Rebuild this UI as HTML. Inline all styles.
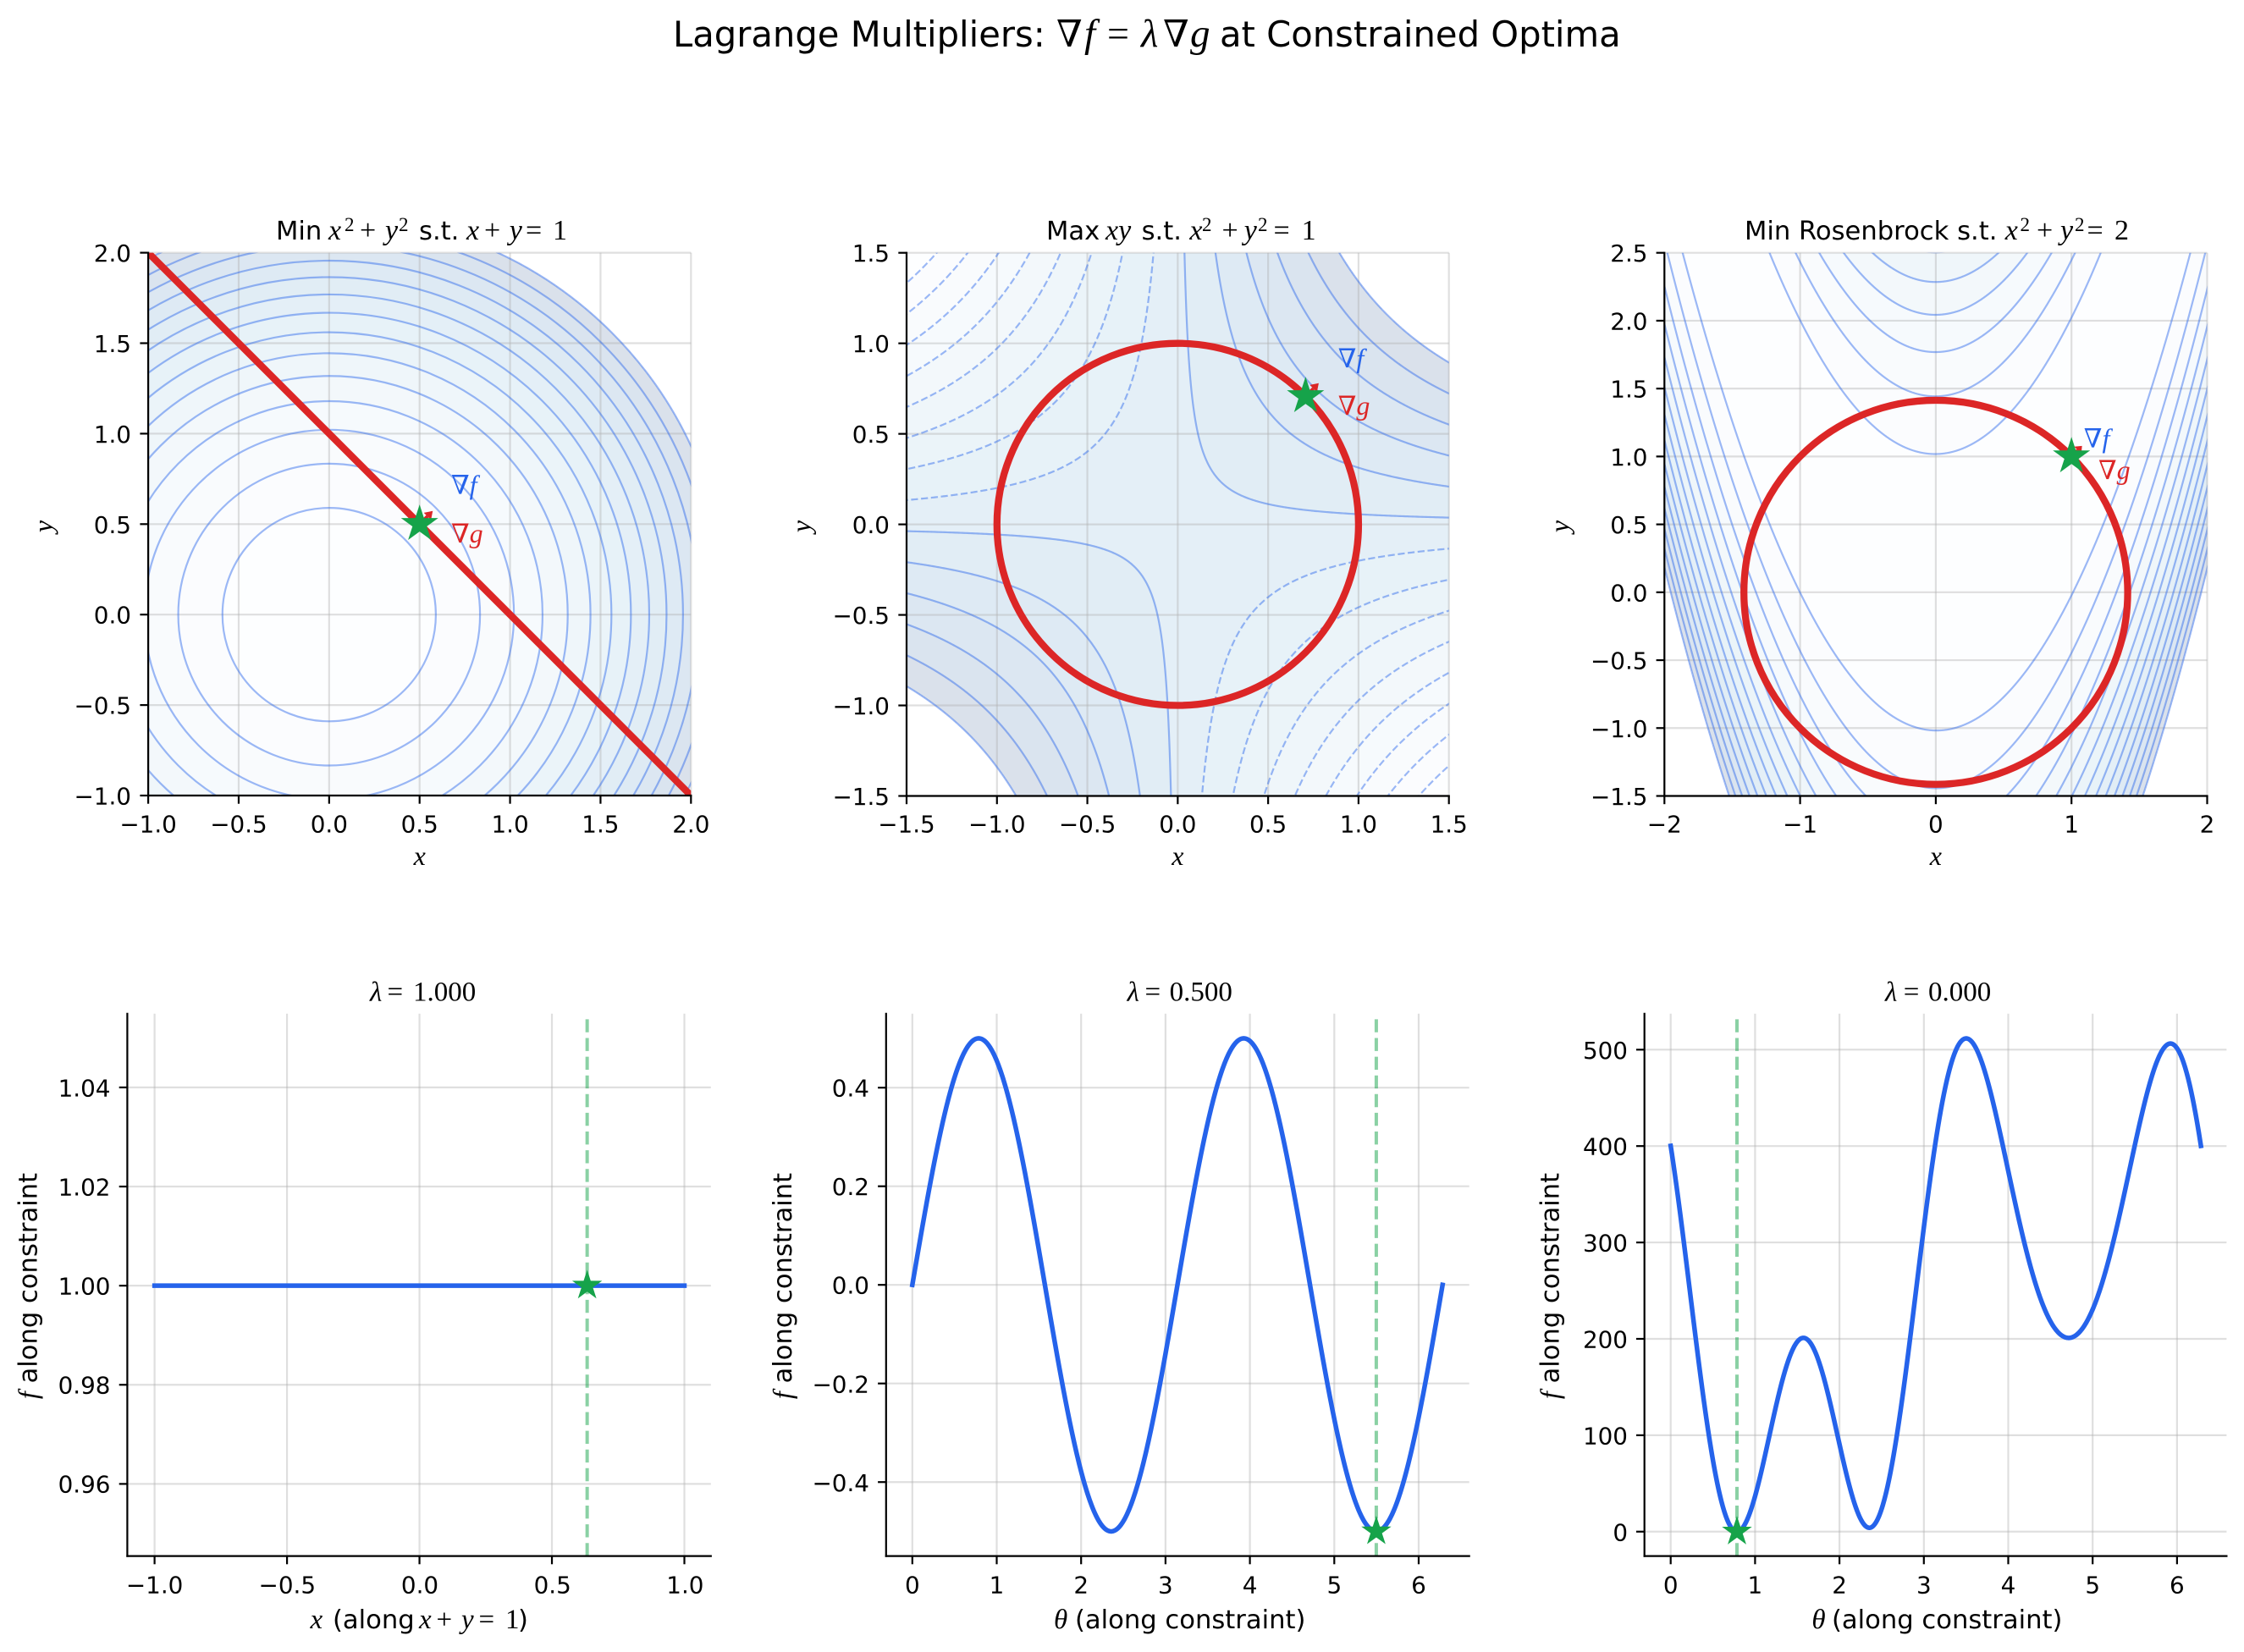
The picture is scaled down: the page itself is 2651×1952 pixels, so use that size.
<!DOCTYPE html>
<html><head><meta charset="utf-8">
<style>
html,body{margin:0;padding:0;background:#fff;}
#root{position:relative;width:2651px;height:1952px;overflow:hidden;background:#fff;}
canvas{position:absolute;}
svg{position:absolute;left:0;top:0;}
.s{font-family:"DejaVu Sans","Liberation Sans",sans-serif;}
.mi{font-family:"Liberation Serif","DejaVu Serif",serif;font-style:italic;}
.mr{font-family:"Liberation Serif","DejaVu Serif",serif;font-style:normal;}
.nb{font-family:"DejaVu Serif","Liberation Serif",serif;font-style:normal;}
</style></head><body>
<div id="root">
<canvas id="c0" width="641" height="641" style="left:175px;top:299px"></canvas>
<canvas id="c1" width="641" height="642" style="left:1071px;top:299px"></canvas>
<canvas id="c2" width="642" height="642" style="left:1966px;top:299px"></canvas>
<svg id="s" width="2651" height="1952" viewBox="0 0 2651 1952">
<defs>
 <clipPath id="k0"><rect x="175.1" y="298.6" width="641.2" height="641.4"/></clipPath>
 <clipPath id="k1"><rect x="1071" y="298.7" width="640.7" height="641.8"/></clipPath>
 <clipPath id="k2"><rect x="1966.3" y="298.7" width="641.2" height="641.8"/></clipPath>
 <clipPath id="k3"><rect x="150.4" y="1197.8" width="689.4" height="640.8"/></clipPath>
 <clipPath id="k4"><rect x="1046.8" y="1197.8" width="688.9" height="640.8"/></clipPath>
 <clipPath id="k5"><rect x="1942.7" y="1197.8" width="687.7" height="640.8"/></clipPath>
</defs>
<g id="plot"></g>

<!-- Main title -->
<text y="55" font-size="41.7" fill="#000"><tspan x="795" class="s">Lagrange Multipliers:</tspan><tspan x="1248" class="nb" font-size="44">∇</tspan><tspan x="1281" class="mi" font-size="47">f</tspan><tspan x="1308" class="mr" font-size="46">=</tspan><tspan x="1348" class="mi" font-size="47">λ</tspan><tspan x="1374" class="nb" font-size="44">∇</tspan><tspan x="1406" class="mi" font-size="47">g</tspan><tspan x="1441" class="s">at Constrained Optima</tspan></text>

<!-- Row 1 titles -->
<text y="283" font-size="30.6" fill="#000"><tspan x="326" class="s">Min</tspan><tspan x="388" class="mi" font-size="34">x</tspan><tspan x="407" dy="-10" class="mr" font-size="23">2</tspan><tspan x="425" dy="10" class="mr" font-size="34">+</tspan><tspan x="455" class="mi" font-size="34">y</tspan><tspan x="471" dy="-10" class="mr" font-size="23">2</tspan><tspan x="495" dy="10" class="s">s.t.</tspan><tspan x="551" class="mi" font-size="34">x</tspan><tspan x="572" class="mr" font-size="34">+</tspan><tspan x="601.7" class="mi" font-size="34">y</tspan><tspan x="621" class="mr" font-size="34">=</tspan><tspan x="653" class="mr" font-size="34">1</tspan></text>
<text y="283" font-size="30.6" fill="#000"><tspan x="1236" class="s">Max</tspan><tspan x="1306" class="mi" font-size="34">xy</tspan><tspan x="1348.6" class="s">s.t.</tspan><tspan x="1405.4" class="mi" font-size="34">x</tspan><tspan x="1420" dy="-10" class="mr" font-size="23">2</tspan><tspan x="1443.5" dy="10" class="mr" font-size="34">+</tspan><tspan x="1469.7" class="mi" font-size="34">y</tspan><tspan x="1486" dy="-10" class="mr" font-size="23">2</tspan><tspan x="1504.5" dy="10" class="mr" font-size="34">=</tspan><tspan x="1537.6" class="mr" font-size="34">1</tspan></text>
<text y="283" font-size="30.6" fill="#000"><tspan x="2061" class="s">Min Rosenbrock s.t.</tspan><tspan x="2368.8" class="mi" font-size="34">x</tspan><tspan x="2386.5" dy="-10" class="mr" font-size="23">2</tspan><tspan x="2406" dy="10" class="mr" font-size="34">+</tspan><tspan x="2434" class="mi" font-size="34">y</tspan><tspan x="2451" dy="-10" class="mr" font-size="23">2</tspan><tspan x="2465.5" dy="10" class="mr" font-size="34">=</tspan><tspan x="2498" class="mr" font-size="34">2</tspan></text>

<!-- Row 2 titles -->
<text y="1182.5" font-size="33" fill="#000"><tspan x="437" class="mi">λ</tspan><tspan x="457.5" class="mr">=</tspan><tspan x="488" class="mr">1.000</tspan></text>
<text y="1182.5" font-size="33" fill="#000"><tspan x="1331.6" class="mi">λ</tspan><tspan x="1352.5" class="mr">=</tspan><tspan x="1381.6" class="mr">0.500</tspan></text>
<text y="1182.5" font-size="33" fill="#000"><tspan x="2227" class="mi">λ</tspan><tspan x="2248.8" class="mr">=</tspan><tspan x="2278" class="mr">0.000</tspan></text>

<!-- gradient labels -->
<text y="583.5" font-size="31" fill="#2563eb"><tspan x="533" class="nb">∇</tspan><tspan class="mi" font-size="32">f</tspan></text>
<text y="641" font-size="31" fill="#dc2626"><tspan x="533" class="nb">∇</tspan><tspan class="mi" font-size="32">g</tspan></text>
<text y="434" font-size="31" fill="#2563eb"><tspan x="1580.7" class="nb">∇</tspan><tspan class="mi" font-size="32">f</tspan></text>
<text y="490" font-size="31" fill="#dc2626"><tspan x="1580.7" class="nb">∇</tspan><tspan class="mi" font-size="32">g</tspan></text>
<text y="528.4" font-size="31" fill="#2563eb"><tspan x="2461.8" class="nb">∇</tspan><tspan class="mi" font-size="32">f</tspan></text>
<text y="566" font-size="31" fill="#dc2626"><tspan x="2479" class="nb">∇</tspan><tspan class="mi" font-size="32">g</tspan></text>

<!-- Tick labels -->
<g class="s" font-size="27.8" fill="#000">
 <g text-anchor="end">
  <text x="155" y="309.1">2.0</text><text x="155" y="416">1.5</text><text x="155" y="522.9">1.0</text><text x="155" y="629.8">0.5</text><text x="155" y="736.7">0.0</text><text x="155" y="843.6">−0.5</text><text x="155" y="950.5">−1.0</text>
  <text x="1051" y="309.2">1.5</text><text x="1051" y="416.2">1.0</text><text x="1051" y="523.1">0.5</text><text x="1051" y="630.1">0.0</text><text x="1051" y="737.1">−0.5</text><text x="1051" y="844">−1.0</text><text x="1051" y="951">−1.5</text>
  <text x="1946.5" y="309.2">2.5</text><text x="1946.5" y="389.4">2.0</text><text x="1946.5" y="469.6">1.5</text><text x="1946.5" y="549.9">1.0</text><text x="1946.5" y="630.1">0.5</text><text x="1946.5" y="710.3">0.0</text><text x="1946.5" y="790.5">−0.5</text><text x="1946.5" y="870.8">−1.0</text><text x="1946.5" y="951">−1.5</text>
  <text x="130.5" y="1295.3">1.04</text><text x="130.5" y="1412.4">1.02</text><text x="130.5" y="1529.5">1.00</text><text x="130.5" y="1646.5">0.98</text><text x="130.5" y="1763.6">0.96</text>
  <text x="1027" y="1295.3">0.4</text><text x="1027" y="1412">0.2</text><text x="1027" y="1528.7">0.0</text><text x="1027" y="1645.4">−0.2</text><text x="1027" y="1762.1">−0.4</text>
  <text x="1923" y="1820.3">0</text><text x="1923" y="1706.4">100</text><text x="1923" y="1592.5">200</text><text x="1923" y="1478.6">300</text><text x="1923" y="1364.7">400</text><text x="1923" y="1250.8">500</text>
 </g>
 <g text-anchor="middle">
  <text x="175.1" y="983.5">−1.0</text><text x="282" y="983.5">−0.5</text><text x="388.8" y="983.5">0.0</text><text x="495.7" y="983.5">0.5</text><text x="602.6" y="983.5">1.0</text><text x="709.4" y="983.5">1.5</text><text x="816.3" y="983.5">2.0</text>
  <text x="1071" y="983.5">−1.5</text><text x="1177.8" y="983.5">−1.0</text><text x="1284.6" y="983.5">−0.5</text><text x="1391.4" y="983.5">0.0</text><text x="1498.1" y="983.5">0.5</text><text x="1604.9" y="983.5">1.0</text><text x="1711.7" y="983.5">1.5</text>
  <text x="1966.3" y="983.5">−2</text><text x="2126.6" y="983.5">−1</text><text x="2286.9" y="983.5">0</text><text x="2447.2" y="983.5">1</text><text x="2607.5" y="983.5">2</text>
  <text x="182.6" y="1882.5">−1.0</text><text x="339.3" y="1882.5">−0.5</text><text x="496" y="1882.5">0.0</text><text x="652.7" y="1882.5">0.5</text><text x="809.4" y="1882.5">1.0</text>
  <text x="1077.8" y="1882.5">0</text><text x="1177.5" y="1882.5">1</text><text x="1277.2" y="1882.5">2</text><text x="1376.9" y="1882.5">3</text><text x="1476.6" y="1882.5">4</text><text x="1576.3" y="1882.5">5</text><text x="1676" y="1882.5">6</text>
  <text x="1973.7" y="1882.5">0</text><text x="2073.4" y="1882.5">1</text><text x="2173.1" y="1882.5">2</text><text x="2272.8" y="1882.5">3</text><text x="2372.5" y="1882.5">4</text><text x="2472.2" y="1882.5">5</text><text x="2571.9" y="1882.5">6</text>
 </g>
</g>

<!-- Axis labels row 1 -->
<g font-size="32" fill="#000" text-anchor="middle">
 <text x="495.7" y="1022" class="mi">x</text>
 <text x="1391.4" y="1022" class="mi">x</text>
 <text x="2286.9" y="1022" class="mi">x</text>
 <text transform="translate(61.5,622) rotate(-90)" class="mi">y</text>
 <text transform="translate(957,622) rotate(-90)" class="mi">y</text>
 <text transform="translate(1853,622) rotate(-90)" class="mi">y</text>
</g>
<g font-size="30.6" fill="#000" text-anchor="middle">
 <text transform="translate(43.5,1519.5) rotate(-90)"><tspan class="mi" font-size="32">f</tspan><tspan class="s"> along constraint</tspan></text>
 <text transform="translate(934.8,1519.5) rotate(-90)"><tspan class="mi" font-size="32">f</tspan><tspan class="s"> along constraint</tspan></text>
 <text transform="translate(1841.6,1519.5) rotate(-90)"><tspan class="mi" font-size="32">f</tspan><tspan class="s"> along constraint</tspan></text>
</g>
<!-- Axis labels row 2 -->
<text y="1924" font-size="30.6" fill="#000"><tspan x="366.5" class="mi" font-size="33">x</tspan><tspan x="393" class="s">(along</tspan><tspan x="495" class="mi" font-size="33">x</tspan><tspan x="515.5" class="mr" font-size="33">+</tspan><tspan x="545" class="mi" font-size="33">y</tspan><tspan x="565.5" class="mr" font-size="33">=</tspan><tspan x="597" class="mr" font-size="33">1</tspan><tspan x="612" class="s">)</tspan></text>
<text y="1924" font-size="30.6" fill="#000"><tspan x="1245" class="mi" font-size="33">θ</tspan><tspan x="1270" class="s">(along constraint)</tspan></text>
<text y="1924" font-size="30.6" fill="#000"><tspan x="2140.4" class="mi" font-size="33">θ</tspan><tspan x="2164" class="s">(along constraint)</tspan></text>
</svg>
</div>
<script>
(function(){
var NS="http://www.w3.org/2000/svg";
var root=document.getElementById('plot');
function el(tag,at,par){var e=document.createElementNS(NS,tag);for(var k in at)e.setAttribute(k,at[k]);(par||root).appendChild(e);return e;}
var A=[
 {l:175.1,r:816.3,t:298.6,b:940.0,x0:-1,x1:2,y0:-1,y1:2,xt:[-1,-0.5,0,0.5,1,1.5,2],yt:[-1,-0.5,0,0.5,1,1.5,2]},
 {l:1071.0,r:1711.7,t:298.7,b:940.5,x0:-1.5,x1:1.5,y0:-1.5,y1:1.5,xt:[-1.5,-1,-0.5,0,0.5,1,1.5],yt:[-1.5,-1,-0.5,0,0.5,1,1.5]},
 {l:1966.3,r:2607.5,t:298.7,b:940.5,x0:-2,x1:2,y0:-1.5,y1:2.5,xt:[-2,-1,0,1,2],yt:[-1.5,-1,-0.5,0,0.5,1,1.5,2,2.5]},
 {l:150.4,r:839.8,t:1197.8,b:1838.6,x0:-1.1029,x1:1.1,y0:0.94545,y1:1.05487,xt:[-1,-0.5,0,0.5,1],yt:[0.96,0.98,1,1.02,1.04]},
 {l:1046.8,r:1735.7,t:1197.8,b:1838.6,x0:-0.311,x1:6.599,y0:-0.55,y1:0.55,xt:[0,1,2,3,4,5,6],yt:[-0.4,-0.2,0,0.2,0.4]},
 {l:1942.7,r:2630.4,t:1197.8,b:1838.6,x0:-0.311,x1:6.587,y0:-25.3,y1:537.3,xt:[0,1,2,3,4,5,6],yt:[0,100,200,300,400,500]}
];
function X(a,v){return a.l+(v-a.x0)/(a.x1-a.x0)*(a.r-a.l);}
function Y(a,v){return a.b-(v-a.y0)/(a.y1-a.y0)*(a.b-a.t);}
function P(a,pts){var s='';for(var i=0;i<pts.length;i++){s+=(i?'L':'M')+X(a,pts[i][0]).toFixed(2)+' '+Y(a,pts[i][1]).toFixed(2);}return s;}
var BL=[[247,251,255],[222,235,247],[198,219,239],[158,202,225],[107,174,214],[66,146,198],[33,113,181],[8,81,156],[8,48,107]];
function blues(t){t=Math.max(0,Math.min(1,t));var s=t*8;var i=Math.min(7,Math.floor(s));var f=s-i;return [0,1,2].map(function(k){return BL[i][k]+(BL[i+1][k]-BL[i][k])*f;});}
function rosen(x,y){return (1-x)*(1-x)+100*(y-x*x)*(y-x*x);}
function fillPanel(id,a,fn,L0,step,n,alpha){
 var c=document.getElementById(id);var ctx=c.getContext('2d');
 var W=c.width,H=c.height;var img=ctx.createImageData(W,H);
 var left=parseFloat(c.style.left),top=parseFloat(c.style.top);
 var cols=[];for(var i=0;i<n;i++){var b=blues((i+0.5)/n);cols.push(b.map(function(v){return Math.round(255-alpha*(255-v));}));}
 for(var j=0;j<H;j++){var py=top+j+0.5;var y=a.y0+(a.b-py)/(a.b-a.t)*(a.y1-a.y0);
  for(var i2=0;i2<W;i2++){var px=left+i2+0.5;var x=a.x0+(px-a.l)/(a.r-a.l)*(a.x1-a.x0);
   var f=fn(x,y);var k=Math.floor((f-L0)/step);var o=(j*W+i2)*4;
   if(k>=0&&k<n){img.data[o]=cols[k][0];img.data[o+1]=cols[k][1];img.data[o+2]=cols[k][2];img.data[o+3]=255;}else{img.data[o+3]=0;}
  }}
 ctx.putImageData(img,0,0);
}
fillPanel('c0',A[0],function(x,y){return x*x+y*y;},0,0.3478,14,0.15);
fillPanel('c1',A[1],function(x,y){return x*y;},-2.257,0.257,14,0.15);
fillPanel('c2',A[2],rosen,0,104.62,14,0.15);

// grids
A.forEach(function(a){
 var g=el('g',{stroke:'#b0b0b0','stroke-opacity':0.4,'stroke-width':2.2});
 a.xt.forEach(function(v){var x=X(a,v);el('line',{x1:x,x2:x,y1:a.t,y2:a.b},g);});
 a.yt.forEach(function(v){var y=Y(a,v);el('line',{x1:a.l,x2:a.r,y1:y,y2:y},g);});
});
var LC={stroke:'#2563eb','stroke-opacity':0.45,'stroke-width':2.2,fill:'none'};
// panel 1 contours
(function(){var a=A[0];var g=el('g',{'clip-path':'url(#k0)'});
 var sx=(a.r-a.l)/(a.x1-a.x0),sy=(a.b-a.t)/(a.y1-a.y0);
 for(var k=1;k<=14;k++){var r=Math.sqrt(k*0.3478);
  var e=el('ellipse',{cx:X(a,0),cy:Y(a,0),rx:r*sx,ry:r*sy},g);for(var q in LC)e.setAttribute(q,LC[q]);}
 el('line',{x1:X(a,-1),y1:Y(a,2),x2:X(a,2),y2:Y(a,-1),stroke:'#dc2626','stroke-width':8.3,'stroke-linecap':'square'},g);
})();
// panel 2 contours
(function(){var a=A[1];var g=el('g',{'clip-path':'url(#k1)'});
 for(var m=1;m<=14;m++){var c=-2.257+m*0.257;var ac=Math.abs(c);var M=1.7;var lo=ac/M;var xs=[];
  for(var i=0;i<=500;i++){xs.push(lo*Math.pow(M/lo,i/500));}
  var b1=xs.map(function(x){return [x,c/x];});var b2=xs.map(function(x){return [-x,-c/x];});
  [b1,b2].forEach(function(b){var e=el('path',{d:P(a,b)},g);for(var q in LC)e.setAttribute(q,LC[q]);if(c<0)e.setAttribute('stroke-dasharray','8.2 3.6');});
 }
 el('ellipse',{cx:X(a,0),cy:Y(a,0),rx:(X(a,1)-X(a,0)),ry:(Y(a,0)-Y(a,1)),fill:'none',stroke:'#dc2626','stroke-width':8.3},g);
})();
// panel 3 contours
(function(){var a=A[2];var g=el('g',{'clip-path':'url(#k2)'});
 for(var k=1;k<=14;k++){var c=k*104.62;var sc=Math.sqrt(c);
  var t0=Math.acos(Math.max(-1,Math.min(1,(1+2.3)/sc)));var t1=Math.acos(Math.max(-1,Math.min(1,(1-2.3)/sc)));
  var N=2000,up=[],lo=[];
  for(var i=0;i<=N;i++){var t=t0+(t1-t0)*i/N;var x=1-sc*Math.cos(t);var d=sc*Math.sin(t)/10;up.push([x,x*x+d]);lo.push([x,x*x-d]);}
  var pts=up.concat(lo.reverse());var e=el('path',{d:P(a,pts)},g);for(var q in LC)e.setAttribute(q,LC[q]);
 }
 var r2=Math.SQRT2;
 el('ellipse',{cx:X(a,0),cy:Y(a,0),rx:(X(a,r2)-X(a,0)),ry:(Y(a,0)-Y(a,r2)),fill:'none',stroke:'#dc2626','stroke-width':8.3},g);
})();
function arrow(cx,cy,s){
 var u=[0.7071,-0.7071],p=[0.7071,0.7071];
 var tip=[cx+22*s*u[0],cy+22*s*u[1]],bc=[cx+13*s*u[0],cy+13*s*u[1]];
 el('line',{x1:cx,y1:cy,x2:bc[0],y2:bc[1],stroke:'#2563eb','stroke-width':3});
 el('line',{x1:cx,y1:cy,x2:bc[0],y2:bc[1],stroke:'#dc2626','stroke-width':4});
 el('polygon',{points:tip[0]+','+tip[1]+' '+(bc[0]+6*p[0])+','+(bc[1]+6*p[1])+' '+(bc[0]-6*p[0])+','+(bc[1]-6*p[1]),fill:'#dc2626'});
}
function star(cx,cy,R){var pts=[];for(var k=0;k<10;k++){var ang=-Math.PI/2+k*Math.PI/5;var rr=(k%2)?R*0.381966:R;pts.push((cx+rr*Math.cos(ang)).toFixed(2)+','+(cy+rr*Math.sin(ang)).toFixed(2));}
 el('polygon',{points:pts.join(' '),fill:'#16a34a',stroke:'#16a34a','stroke-width':1,'stroke-linejoin':'miter'});}
arrow(X(A[0],0.5),Y(A[0],0.5),1);star(X(A[0],0.5),Y(A[0],0.5),21.5);
arrow(X(A[1],0.7071),Y(A[1],0.7071),1);star(X(A[1],0.7071),Y(A[1],0.7071),21.5);
arrow(X(A[2],1),Y(A[2],1),0.8);star(X(A[2],1),Y(A[2],1),21.5);

// row 2
var BC={stroke:'#2563eb','stroke-width':5.5,fill:'none','stroke-linecap':'square','stroke-linejoin':'round'};
function dashV(a,v){var x=X(a,v);el('line',{x1:x,x2:x,y1:a.b,y2:a.t,stroke:'#16a34a','stroke-opacity':0.5,'stroke-width':4,'stroke-dasharray':'15.4 6.7'});}
(function(){var a=A[3];var g=el('g',{'clip-path':'url(#k3)'});
 var e=el('path',{d:P(a,[[-1,1],[1,1]])},g);for(var q in BC)e.setAttribute(q,BC[q]);
 dashV(a,0.633);star(X(a,0.633),Y(a,1),17);
})();
(function(){var a=A[4];var g=el('g',{'clip-path':'url(#k4)'});var pts=[];
 for(var i=0;i<=800;i++){var t=2*Math.PI*i/800;pts.push([t,0.5*Math.sin(2*t)]);}
 var e=el('path',{d:P(a,pts)},g);for(var q in BC)e.setAttribute(q,BC[q]);
 dashV(a,7*Math.PI/4);star(X(a,7*Math.PI/4),Y(a,-0.5),17);
})();
(function(){var a=A[5];var g=el('g',{'clip-path':'url(#k5)'});var pts=[];
 for(var i=0;i<=1000;i++){var t=2*Math.PI*i/1000;pts.push([t,rosen(Math.SQRT2*Math.cos(t),Math.SQRT2*Math.sin(t))]);}
 var e=el('path',{d:P(a,pts)},g);for(var q in BC)e.setAttribute(q,BC[q]);
 dashV(a,Math.PI/4);star(X(a,Math.PI/4),Y(a,0),17);
})();
// spines & ticks
A.forEach(function(a){
 var g=el('g',{stroke:'#000','stroke-width':2.2,'stroke-linecap':'square'});
 el('line',{x1:a.l,y1:a.t,x2:a.l,y2:a.b},g);
 el('line',{x1:a.l,y1:a.b,x2:a.r,y2:a.b},g);
 var gt=el('g',{stroke:'#000','stroke-width':2.2});
 a.xt.forEach(function(v){var x=X(a,v);el('line',{x1:x,x2:x,y1:a.b,y2:a.b+9.7},gt);});
 a.yt.forEach(function(v){var y=Y(a,v);el('line',{x1:a.l-9.7,x2:a.l,y1:y,y2:y},gt);});
});
})();
</script>
</body></html>
